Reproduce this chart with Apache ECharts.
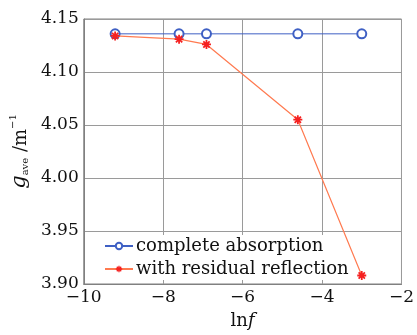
<!DOCTYPE html>
<html>
<head>
<meta charset="utf-8">
<script src="https://cdn.jsdelivr.net/npm/echarts@6/dist/echarts.min.js"></script>
<style>
  html, body { margin: 0; padding: 0; background: #fff; }
  #chart { width: 417px; height: 335px; }
</style>
</head>
<body>
<div id="chart"></div>
<script>
const lnF = [-9.21, -7.60, -6.91, -4.61, -3.00];
const completeAbsorption = [4.136, 4.136, 4.136, 4.136, 4.136];
const residualReflection = [4.134, 4.131, 4.126, 4.055, 3.908];
const seriesNames = ["complete absorption", "with residual reflection"];

const BLUE = "#3f60c4";
const RED_LINE = "#ff7a50";
const RED_MARK = "#f52020";
const GRID = "#9a9a9a";
const FRAME = "#808080";
const FONT = "DejaVu Serif";

// eight-armed asterisk, built from four thin bars
const ASTERISK =
  "path://M-1,-5L1,-5L1,5L-1,5Z" +
  "M-5,-1L5,-1L5,1L-5,1Z" +
  "M-2.8,-4.2L4.2,2.8L2.8,4.2L-4.2,-2.8Z" +
  "M-4.2,2.8L2.8,-4.2L4.2,-2.8L-2.8,4.2Z";

const minus = (s) => String(s).replace("-", "\u2212");

const chart = echarts.init(document.getElementById("chart"), null, { renderer: "canvas" });

chart.setOption({
  animation: false,
  backgroundColor: "#fff",
  textStyle: { fontFamily: FONT },
  grid: { left: 81, right: 6, top: 19, bottom: 48, show: true, borderColor: FRAME, borderWidth: 1 },
  legend: {
    left: 98,
    top: 235,
    orient: "vertical",
    itemWidth: 28,
    itemHeight: 8,
    itemGap: 5,
    padding: [2, 4, 2, 6],
    backgroundColor: "#fff",
    textStyle: { fontFamily: FONT, fontSize: 18, color: "#111", padding: [0, 0, 0, -2] },
    data: seriesNames,
  },
  xAxis: {
    type: "value",
    min: -10,
    max: -2,
    interval: 2,
    axisLine: { show: true, lineStyle: { color: FRAME } },
    axisTick: { show: false },
    splitLine: { show: true, lineStyle: { color: GRID, width: 1 } },
    axisLabel: {
      color: "#111",
      fontSize: 17,
      fontFamily: FONT,
      margin: 5,
      formatter: (v) => minus(v),
    },
    name: "{n|ln}{f|f}",
    nameLocation: "middle",
    nameGap: 28,
    nameTextStyle: {
      rich: {
        n: { fontFamily: FONT, fontSize: 18, color: "#111" },
        f: { fontFamily: FONT, fontSize: 18, fontStyle: "italic", color: "#111" },
      },
    },
  },
  yAxis: {
    type: "value",
    min: 3.9,
    max: 4.15,
    interval: 0.05,
    axisLine: { show: true, lineStyle: { color: FRAME } },
    axisTick: { show: false },
    splitLine: { show: true, lineStyle: { color: GRID, width: 1 } },
    axisLabel: {
      color: "#111",
      fontSize: 17,
      fontFamily: FONT,
      margin: 5,
      formatter: (v) => v.toFixed(2),
    },
    name: "{g|g}{sub|ave}{u| /m}{sup|\u22121}",
    nameLocation: "middle",
    nameRotate: 90,
    nameGap: 50,
    nameTextStyle: {
      rich: {
        g: { fontFamily: FONT, fontSize: 21, fontStyle: "italic", color: "#111", verticalAlign: "bottom", lineHeight: 22 },
        sub: { fontFamily: FONT, fontSize: 10, color: "#111", verticalAlign: "bottom", lineHeight: 12 },
        u: { fontFamily: FONT, fontSize: 18, color: "#111", verticalAlign: "bottom", lineHeight: 22 },
        sup: { fontFamily: FONT, fontSize: 10, color: "#111", verticalAlign: "top", lineHeight: 18 },
      },
    },
  },
  series: [
    {
      name: seriesNames[0],
      type: "line",
      data: lnF.map((x, i) => [x, completeAbsorption[i]]),
      symbol: "emptyCircle",
      symbolSize: 9,
      lineStyle: { color: BLUE, width: 1 },
      itemStyle: { color: BLUE, borderColor: BLUE, borderWidth: 1.6 },
      z: 3,
    },
    {
      name: seriesNames[1],
      type: "line",
      data: lnF.map((x, i) => [x, residualReflection[i]]),
      symbol: ASTERISK,
      symbolSize: 9,
      lineStyle: { color: RED_LINE, width: 1.2 },
      itemStyle: { color: RED_MARK, borderWidth: 0 },
      z: 4,
    },
  ],
});
</script>
</body>
</html>
